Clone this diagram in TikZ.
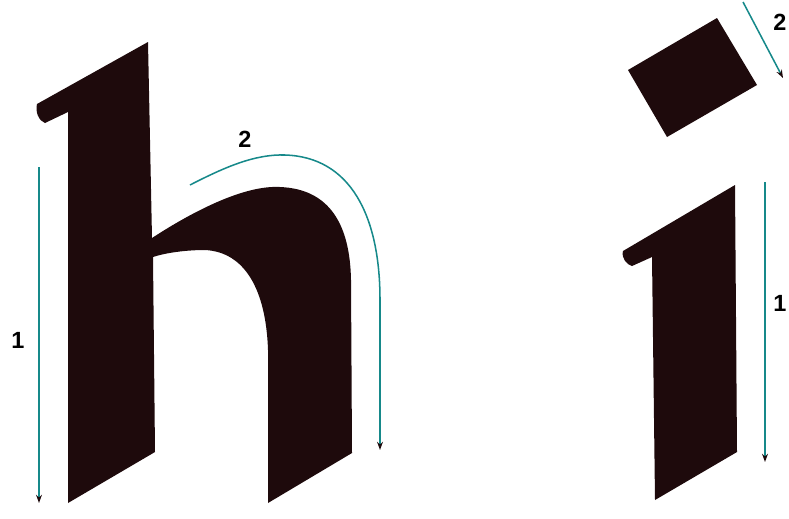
\documentclass[tikz,border=0pt]{standalone}
\usepackage{fontspec}
\setmainfont{Liberation Sans}
\usetikzlibrary{arrows.meta}
\definecolor{ink}{RGB}{30,10,12}
\definecolor{strokecol}{RGB}{22,137,138}
\tikzset{
  letter/.style={fill=ink, draw=none},
  strokearrow/.style={draw=strokecol, line width=1.3pt, -{Stealth[length=7pt, width=5pt, color=ink]}},
  steplabel/.style={font=\fontsize{20}{22}\selectfont\bfseries, inner sep=0pt}
}
\begin{document}
\begin{tikzpicture}[x=0.03cm, y=-0.03cm]
    \useasboundingbox (0,0) rectangle (789,518);

    % Letter h
    \fill[letter] (37,104) -- (148,42) -- (152,238)
        .. controls (195,210) and (245,185) .. (280,187)
        .. controls (330,189) and (350,225) .. (351,280)
        -- (352,453) -- (268,503) -- (268,350)
        .. controls (266,290) and (245,252) .. (205,250)
        .. controls (185,250) and (165,253) .. (153,257)
        -- (155,452) -- (68,503) -- (68,112) -- (45,123)
        .. controls (39,121) and (35,112) .. (37,104) -- cycle;

    % Letter i
    \fill[letter] (628,70) -- (717,18) -- (757,85) -- (667,137) -- cycle;
    \fill[letter] (623,251) -- (735,185) -- (737,452) -- (655,500) -- (652,257) -- (632,266)
        .. controls (627,265) and (621,258) .. (623,251) -- cycle;

    % Stroke ends
    \coordinate (h1from) at (39,167);
    \coordinate (h1to) at (39,503);
    \coordinate (h2from) at (190,185);
    \coordinate (h2top) at (285,155);
    \coordinate (h2bend) at (380,300);
    \coordinate (h2to) at (380,450);
    \coordinate (i1from) at (765,182);
    \coordinate (i1to) at (765,462);
    \coordinate (i2from) at (743,2);
    \coordinate (i2to) at (783,78);

    % Labels
    \node[steplabel] (hone) at (18,340) {1};
    \node[steplabel] (htwo) at (245,139) {2};
    \node[steplabel] (ione) at (780,303) {1};
    \node[steplabel] (itwo) at (780,22) {2};

    % Arrows
    \draw[strokearrow] (h1from) -- (h1to);
    \draw[strokearrow] (h2from) .. controls (225,167) and (255,154) .. (h2top)
        .. controls (350,157) and (380,215) .. (h2bend) -- (h2to);
    \draw[strokearrow] (i1from) -- (i1to);
    \draw[strokearrow] (i2from) -- (i2to);
\end{tikzpicture}
\end{document}
